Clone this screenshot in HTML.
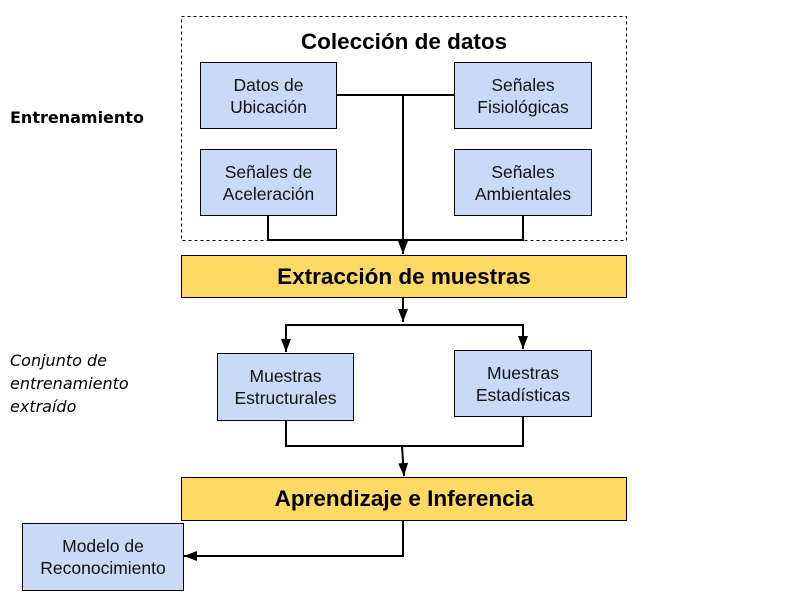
<!DOCTYPE html>
<html><head><meta charset="utf-8"><style>
body{margin:0;width:806px;height:604px;background:#fff;position:relative;font-family:"Liberation Sans",sans-serif;overflow:hidden}
.b{position:absolute;background:#c9daf8;border:1px solid #000;box-sizing:border-box;display:flex;align-items:center;justify-content:center;text-align:center;font-size:17.5px;line-height:22px;color:#111}
.y{position:absolute;background:#ffd966;border:1px solid #000;box-sizing:border-box;display:flex;align-items:center;justify-content:center;font-weight:bold;font-size:22.5px;color:#000}
.t{position:absolute;font-family:"DejaVu Sans","Liberation Sans",sans-serif;font-size:16px;color:#000}
</style></head><body>
<svg width="806" height="604" style="position:absolute;left:0;top:0">
<defs><marker id="a" markerWidth="14" markerHeight="14" refX="13" refY="6" orient="auto" markerUnits="userSpaceOnUse"><path d="M0,1 L13,6 L0,11 z" fill="#000"/></marker></defs>
<rect x="181.5" y="16.5" width="445" height="224" fill="none" stroke="#000" stroke-dasharray="3,3"/>
<g stroke="#000" stroke-width="2" fill="none">
<path d="M336 95 H454"/>
<path d="M403 95 V254" marker-end="url(#a)"/>
<path d="M268 215 V240 H523 V215"/>
<path d="M403 297 V322" marker-end="url(#a)"/>
<path d="M286 351 V325 H523 V349"/>
<path d="M286 340 V352" marker-end="url(#a)"/>
<path d="M523 337 V349" marker-end="url(#a)"/>
<path d="M286 420 V446 H523 V416"/>
<path d="M402 446 L404 476" marker-end="url(#a)"/>
<path d="M403 520 V556 H184" marker-end="url(#a)"/>
</g>
</svg>
<div class="t" style="font-family:'Liberation Sans',sans-serif;font-weight:bold;font-size:22.5px;left:181px;width:446px;text-align:center;top:29px">Colección de datos</div>
<div class="b" style="left:200px;top:62px;width:137px;height:67px">Datos de<br>Ubicación</div>
<div class="b" style="left:454px;top:62px;width:138px;height:67px">Señales<br>Fisiológicas</div>
<div class="b" style="left:200px;top:149px;width:137px;height:67px">Señales de<br>Aceleración</div>
<div class="b" style="left:454px;top:149px;width:138px;height:67px">Señales<br>Ambientales</div>
<div class="y" style="left:181px;top:255px;width:446px;height:43px">Extracción de muestras</div>
<div class="b" style="left:217px;top:353px;width:137px;height:68px">Muestras<br>Estructurales</div>
<div class="b" style="left:454px;top:350px;width:138px;height:67px">Muestras<br>Estadísticas</div>
<div class="y" style="left:181px;top:477px;width:446px;height:44px">Aprendizaje e Inferencia</div>
<div class="b" style="left:22px;top:523px;width:162px;height:68px">Modelo de<br>Reconocimiento</div>
<div class="t" style="left:10px;top:108px;font-weight:bold">Entrenamiento</div>
<div class="t" style="left:10px;top:349px;font-style:italic;line-height:23px">Conjunto de<br>entrenamiento<br>extraído</div>
</body></html>
